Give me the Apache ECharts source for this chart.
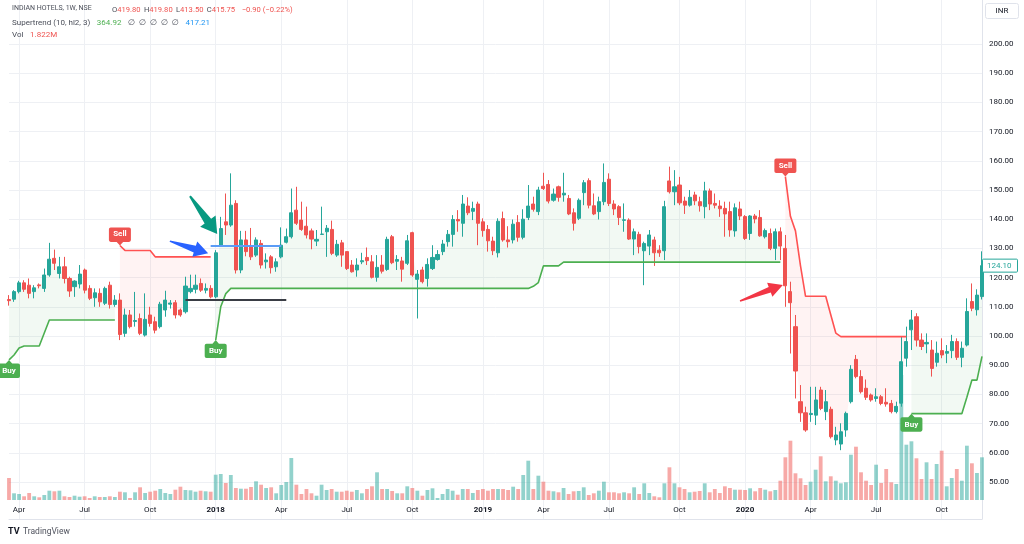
<!DOCTYPE html>
<html><head><meta charset="utf-8">
<script src="https://cdn.jsdelivr.net/npm/echarts@6/dist/echarts.min.js"></script>
<style>html,body{margin:0;padding:0;background:#fff}#c{width:1024px;height:544px}</style>
</head><body><div id="c"></div><script>
// ---------- data (weekly, starting week of 2017-03-20) ----------
const startDate = [2017, 2, 20];
const opens = [112.5,112.6,115.2,118.2,117.4,115.2,117.5,116.3,120.9,126.6,
121.4,123.7,119.7,116.9,117.8,122.6,116.3,113.1,114.6,111.2,
117.4,110.8,112.3,100.9,107.2,105.0,106.0,100.3,107.2,104.9,
103.2,108.9,110.9,111.4,108.9,108.3,115.2,116.0,118.0,115.7,
116.3,113.4,131.1,139.1,138.0,145.4,122.6,132.9,130.8,127.7,
131.7,125.4,127.1,123.7,127.1,132.1,134.0,143.1,139.7,137.6,
136.0,132.5,134.8,135.7,136.5,127.7,131.9,128.9,124.3,122.6,
125.4,126.9,125.4,120.1,124.3,122.8,134.0,125.6,125.7,124.9,
135.4,119.4,122.6,119.7,123.1,126.2,128.9,132.3,134.8,139.9,
138.6,144.5,142.7,145.2,139.1,136.5,132.5,128.5,140.2,132.9,
132.9,138.9,133.8,140.6,145.2,142.6,151.3,151.9,146.5,151.1,
148.3,147.1,142.2,140.3,149.1,153.2,144.6,142.6,146.0,153.7,
145.2,144.3,139.6,139.7,133.2,134.8,129.2,130.8,132.9,129.4,
129.2,153.1,149.4,151.7,146.2,144.8,148.3,146.0,144.3,149.7,
145.4,144.5,143.7,142.6,136.0,143.5,140.9,135.1,141.1,140.6,
134.0,135.1,130.0,135.7,130.0,115.2,103.2,77.5,73.7,73.1,
72.9,81.5,74.1,74.9,64.4,63.0,67.8,77.5,92.0,86.1,
82.1,79.8,78.6,79.2,77.3,76.9,74.1,77.0,92.4,102.1,
106.6,98.6,97.3,95.2,91.0,95.0,94.1,95.0,98.1,92.7,
96.9,111.8,109.0,113.5];
const closes = [112.1,115.2,118.2,116.0,114.6,116.5,117.2,120.9,126.3,124.9,
123.7,119.7,115.4,118.8,121.2,115.7,112.9,114.8,111.7,116.3,
110.8,112.3,100.5,107.2,103.2,105.3,100.9,105.7,104.3,102.0,
110.9,112.3,111.3,107.2,107.2,117.1,116.3,117.4,115.7,116.3,
113.4,128.5,136.8,138.0,144.8,122.6,132.9,128.9,127.1,132.9,
124.3,126.0,123.4,125.4,131.1,134.0,142.2,138.6,136.5,134.6,
133.2,133.1,134.9,136.9,128.3,131.4,127.7,123.1,122.0,124.3,
125.8,125.8,120.1,123.5,122.2,133.1,125.1,126.2,122.9,132.6,
120.9,121.2,118.6,124.5,126.9,127.9,131.5,134.8,139.9,139.4,
145.2,142.2,143.7,138.6,136.1,132.6,129.2,139.3,132.9,132.3,
138.3,133.8,140.0,144.5,143.4,150.0,150.5,146.2,148.6,147.5,
148.9,141.8,138.6,146.5,152.5,144.8,141.8,146.0,152.6,145.4,
143.5,140.6,139.8,133.2,135.7,130.6,131.7,134.6,128.5,128.5,
144.3,149.4,151.1,145.6,144.8,147.5,146.3,144.6,149.7,145.2,
144.8,143.6,141.8,136.3,143.9,141.1,133.4,141.1,140.1,134.3,
136.1,130.0,135.7,130.8,117.2,111.4,88.0,73.7,67.8,73.5,
78.1,75.2,77.5,65.5,66.1,67.2,73.5,88.6,86.1,80.9,
79.0,78.1,79.2,76.9,76.7,74.1,75.9,91.2,98.1,105.5,
98.6,96.4,97.8,88.9,94.1,93.5,94.7,98.1,92.7,95.8,
108.4,109.5,114.0,124.1];
const highs = [114.0,115.7,118.9,119.1,119.7,117.4,118.0,123.1,131.9,129.6,
127.1,127.1,120.3,119.1,124.3,123.1,117.4,116.3,116.3,116.9,
118.6,114.0,114.6,109.4,108.9,115.1,107.7,114.6,110.0,106.6,
111.7,115.5,112.3,112.3,109.4,120.3,121.0,121.0,119.7,118.0,
117.4,129.4,140.8,148.8,155.7,146.5,136.0,136.0,137.0,133.8,
132.9,128.3,127.7,126.6,137.2,136.8,150.5,151.1,146.0,144.3,
136.8,136.3,144.3,138.0,139.5,132.9,132.9,128.9,126.0,126.6,
128.5,130.3,127.7,127.7,127.7,134.0,134.6,127.7,127.1,134.6,
135.7,122.6,123.7,126.6,131.1,129.4,132.9,136.3,141.4,143.1,
148.3,147.5,146.0,146.0,140.3,138.0,134.0,140.3,142.6,137.6,
139.9,141.4,143.4,151.7,147.7,151.1,155.9,153.4,150.5,151.5,
155.9,148.3,143.7,147.1,153.4,154.0,148.8,147.7,159.1,155.7,
146.5,144.8,145.4,140.3,136.8,135.7,132.3,136.3,134.0,131.1,
146.3,158.0,156.8,154.5,147.7,150.0,149.4,147.7,152.8,150.5,
148.8,146.5,146.0,146.0,145.4,146.0,141.4,141.4,141.8,143.1,
136.8,136.8,136.8,137.2,134.6,118.6,107.2,83.2,75.8,82.6,
82.6,82.6,81.5,75.8,68.9,70.1,74.1,90.0,93.5,88.3,
85.1,80.3,82.1,79.8,82.1,78.1,77.5,99.8,103.2,108.9,
107.8,100.9,100.9,98.6,98.1,99.2,96.9,100.4,99.2,98.1,
112.9,118.0,116.0,129.0];
const lows = [110.4,111.7,114.6,115.1,112.9,112.9,116.3,115.1,120.3,122.6,
119.7,118.0,113.4,113.4,116.3,114.6,112.3,110.0,110.0,110.6,
109.4,110.0,98.6,99.7,102.6,103.2,100.3,99.8,103.2,100.9,
102.6,106.6,109.4,106.0,106.6,107.7,114.6,114.6,115.1,114.6,
112.9,112.9,130.6,134.6,137.4,121.4,121.5,127.3,126.0,127.1,
123.1,123.1,121.4,122.0,126.6,131.7,133.4,138.0,136.0,133.4,
129.7,130.8,134.6,127.1,127.7,127.1,123.7,122.6,121.7,120.3,
124.6,124.3,119.7,118.6,121.4,122.3,124.6,122.6,118.6,124.3,
120.3,106.0,118.0,116.9,122.6,125.8,127.7,130.6,130.6,135.7,
134.0,141.4,139.7,131.1,134.0,128.9,127.7,126.9,132.3,130.3,
131.7,132.3,133.1,139.7,142.6,141.4,150.0,145.4,146.0,146.0,
146.0,141.4,136.1,139.7,144.8,143.7,141.4,139.9,144.8,144.5,
141.4,138.0,135.7,132.9,127.7,128.3,117.4,127.7,124.0,127.1,
126.0,148.8,144.8,144.8,141.8,144.3,144.8,142.6,140.3,143.1,
143.7,140.8,134.0,134.0,134.0,139.7,132.9,132.9,138.6,134.0,
133.4,129.4,126.0,126.0,110.0,94.0,78.6,70.6,67.2,70.6,
69.5,74.6,71.2,64.9,62.6,60.9,65.5,76.9,85.5,80.3,
78.1,77.5,77.5,76.3,75.8,73.5,73.5,75.8,89.5,95.2,
96.4,95.2,94.1,86.1,89.5,92.4,90.7,92.4,91.8,89.3,
96.4,108.5,107.0,112.5];
const volumes = [22,6.7,6,3.7,7,3.7,2.7,5,9.3,8.7,
9.3,3.7,3,4.3,3.3,3.7,2,3.7,3,3,
3.7,3,8.3,7.7,2,7.7,12.7,7,8.3,9.3,
11,7,6,10.3,13.3,10,9.7,8.3,9.3,8.7,
8.3,25.3,26,17,25,12,11.3,11.3,13,18.7,
15.3,12,12.7,6.7,15,18,42,15.3,6,11,
6.7,4.3,15.3,10,11,8.3,8.3,9.3,8.3,10,
6.7,11,13.7,27.7,11,11,9,6.7,6.7,13.7,
12,9.3,4.3,10,11.7,2,6,11,9.3,5.3,
11,11,7,10,11,9.3,11,11,11,10,
13.3,11,25,39.3,11,24.3,18.3,9.3,8.7,7.7,
12,6,8.7,9,12.7,5,6.7,9.3,18.3,7.7,
7.7,6.7,7.7,6.7,12.7,6,16.7,7,3.7,2.7,
16.7,32.7,16.7,12.7,11,7.7,8.3,9,16.7,7.7,
11,7,13.7,12,10.3,10.3,10,11.7,8.7,12,
10.3,8.7,10,19.3,42.7,59.3,26.7,21.7,15,18.3,
30.3,43.7,18.7,23.7,19.3,16.7,17.7,45.3,53.3,27.7,
19.3,15,35.3,17,31,17.7,16,125,55.3,58.7,
41.7,21,37.7,21,36,49.3,13.7,22,31,19.3,
54.3,36.7,27,42.7];
const supertrend = [91.8,93.5,95.9,96.6,96.6,96.6,96.6,101.0,105.5,105.5,
105.5,105.5,105.5,105.5,105.5,105.5,105.5,105.5,105.5,105.5,
105.5,105.5,131.0,129.3,129.3,129.3,129.3,129.3,129.3,127.1,
127.1,127.1,127.1,127.1,127.1,127.1,127.1,127.1,127.1,127.1,
127.1,98.6,110.0,114.5,116.3,116.3,116.3,116.3,116.3,116.3,
116.3,116.3,116.3,116.3,116.3,116.3,116.3,116.3,116.3,116.3,
116.3,116.3,116.3,116.3,116.3,116.3,116.3,116.3,116.3,116.3,
116.3,116.3,116.3,116.3,116.3,116.3,116.3,116.3,116.3,116.3,
116.3,116.3,116.3,116.3,116.3,116.3,116.3,116.3,116.3,116.3,
116.3,116.3,116.3,116.3,116.3,116.3,116.3,116.3,116.3,116.3,
116.3,116.3,116.3,116.3,117.0,118.3,124.0,124.0,124.0,124.0,
125.3,125.3,125.3,125.3,125.3,125.3,125.3,125.3,125.3,125.3,
125.3,125.3,125.3,125.3,125.3,125.3,125.3,125.3,125.3,125.3,
125.3,125.3,125.3,125.3,125.3,125.3,125.3,125.3,125.3,125.3,
125.3,125.3,125.3,125.3,125.3,125.3,125.3,125.3,125.3,125.3,
125.3,125.3,125.3,125.3,154.6,141.0,136.0,124.0,113.6,113.6,
113.6,113.6,113.6,107.3,101.0,99.8,99.8,99.8,99.8,99.8,
99.8,99.8,99.8,99.8,99.8,99.8,99.8,99.8,99.8,73.4,
73.4,73.4,73.4,73.4,73.4,73.4,73.4,73.4,73.4,73.4,
79.0,84.9,84.9,93.0];
const buySignals = [0, 41, 179];
const sellSignals = [22, 154];
const monthNames = ['Jan','Feb','Mar','Apr','May','Jun','Jul','Aug','Sep','Oct','Nov','Dec'];
const blueLevel = {from: 40, to: 54, value: 131.0};
const blackLevel = {from: 35, to: 55, value: 112.4};
const lastPrice = 124.10;

// ---------- derived ----------
const N = opens.length;
const dates = [];
for (let i = 0; i < N; i++) {
  const d = new Date(Date.UTC(startDate[0], startDate[1], startDate[2]) + i * 7 * 86400000);
  dates.push(d.toISOString().slice(0, 10));
}
const isUp = [];
for (let i = 0; i < N; i++) {
  let lastB = -1, lastS = -1;
  buySignals.forEach(b => { if (b <= i) lastB = Math.max(lastB, b); });
  sellSignals.forEach(s => { if (s <= i) lastS = Math.max(lastS, s); });
  isUp.push(lastB >= lastS);
}
const mid = opens.map((o, i) => (o + closes[i]) / 2);
const stUp = supertrend.map((v, i) => isUp[i] ? v : '-');
const stDn = supertrend.map((v, i) => !isUp[i] ? v : '-');
const upBase = supertrend.map((v, i) => isUp[i] ? v : '-');
const upFill = supertrend.map((v, i) => isUp[i] ? Math.max(0, mid[i] - v) : '-');
const dnBase = supertrend.map((v, i) => !isUp[i] ? mid[i] : '-');
const dnFill = supertrend.map((v, i) => !isUp[i] ? Math.max(0, v - mid[i]) : '-');
const candles = opens.map((o, i) => [o, closes[i], lows[i], highs[i]]);

function isQuarterStart(i) {
  if (i <= 0) return false;
  const m = +dates[i].slice(5, 7), pm = +dates[i - 1].slice(5, 7);
  return m !== pm && (m - 1) % 3 === 0;
}

const FONT = 'Roboto, "DejaVu Sans", sans-serif';
const TXT = '#131722';
const GRIDC = '#eef0f4';
const UP = '#26a69a', DN = '#ef5350';

const chart = echarts.init(document.getElementById('c'), null, {renderer: 'canvas'});

const buyPath = 'path://M12,0 L15.5,4 L22,4 Q24,4 24,6 L24,18 Q24,20 22,20 L2,20 Q0,20 0,18 L0,6 Q0,4 2,4 L8.5,4 Z';
const sellPath = 'path://M2,0 L22,0 Q24,0 24,2 L24,14 Q24,16 22,16 L15.5,16 L12,20 L8.5,16 L2,16 Q0,16 0,14 L0,2 Q0,0 2,0 Z';

const option = {
  animation: false,
  backgroundColor: '#ffffff',
  textStyle: {fontFamily: FONT},
  grid: [
    {left: 9, right: 42, top: 44, height: 438},
    {left: 9, right: 42, top: 375, height: 125},
    {left: 9, right: 42, top: 0, height: 519}
  ],
  xAxis: [
    {type: 'category', gridIndex: 0, data: dates, boundaryGap: false,
     axisLine: {show: false}, axisTick: {show: false}, axisLabel: {show: false}, splitLine: {show: false}},
    {type: 'category', gridIndex: 1, data: dates, boundaryGap: false,
     axisLine: {show: false}, axisTick: {show: false}, splitLine: {show: false},
     axisLabel: {
       show: true, margin: 6, fontSize: 8, color: TXT, fontFamily: FONT,
       interval: (idx) => isQuarterStart(idx),
       formatter: (val) => {
         const m = +val.slice(5, 7);
         return m === 1 ? '{b|' + val.slice(0, 4) + '}' : monthNames[m - 1];
       },
       rich: {b: {fontWeight: 'bold', fontSize: 8, color: TXT, fontFamily: FONT}}
     }},
    {type: 'category', gridIndex: 2, data: dates, boundaryGap: false,
     axisLine: {show: true, lineStyle: {color: '#e0e3eb'}}, axisTick: {show: false}, axisLabel: {show: false},
     splitLine: {show: true, interval: (idx) => isQuarterStart(idx), lineStyle: {color: GRIDC, width: 1}}}
  ],
  yAxis: [
    {type: 'value', gridIndex: 0, position: 'right', min: 50, max: 200, interval: 10,
     axisLine: {show: false}, axisTick: {show: false},
     axisLabel: {margin: 7, fontSize: 8, color: TXT, fontFamily: FONT, formatter: v => v.toFixed(2)},
     splitLine: {show: true, lineStyle: {color: GRIDC, width: 1}}},
    {type: 'value', gridIndex: 1, min: 0, max: 125, show: false, splitLine: {show: false}},
    {type: 'value', gridIndex: 2, position: 'right', min: 0, max: 1,
     axisLine: {show: true, lineStyle: {color: '#e0e3eb'}}, axisTick: {show: false},
     axisLabel: {show: false}, splitLine: {show: false}}
  ],
  series: [
    {name: 'Vol', type: 'bar', xAxisIndex: 1, yAxisIndex: 1, barWidth: 3.8, clip: false, z: 1,
     data: volumes.map((v, i) => ({value: v, itemStyle: {color: closes[i] >= opens[i] ? 'rgba(38,166,154,0.5)' : 'rgba(239,83,80,0.5)'}}))},
    {name: 'upBase', type: 'line', stack: 'upF', data: upBase, symbol: 'none', silent: true,
     lineStyle: {opacity: 0}, z: 2},
    {name: 'upFill', type: 'line', stack: 'upF', data: upFill, symbol: 'none', silent: true,
     lineStyle: {opacity: 0}, areaStyle: {color: 'rgba(76,175,80,0.10)'}, z: 2},
    {name: 'dnBase', type: 'line', stack: 'dnF', data: dnBase, symbol: 'none', silent: true,
     lineStyle: {opacity: 0}, z: 2},
    {name: 'dnFill', type: 'line', stack: 'dnF', data: dnFill, symbol: 'none', silent: true,
     lineStyle: {opacity: 0}, areaStyle: {color: 'rgba(255,82,82,0.10)'}, z: 2},
    {name: 'INDIAN HOTELS', type: 'candlestick', data: candles, barWidth: 3.6, clip: false, z: 3,
     itemStyle: {color: UP, color0: DN, borderColor: UP, borderColor0: DN, borderWidth: 1},
     markLine: {symbol: 'none', silent: true, label: {show: false}, animation: false,
       data: [
         [{coord: [blueLevel.from, blueLevel.value], lineStyle: {color: '#5b9cf6', width: 2, type: 'solid'}},
          {coord: [blueLevel.to, blueLevel.value]}],
         [{coord: [blackLevel.from, blackLevel.value], lineStyle: {color: '#3a3d45', width: 2, type: 'solid'}},
          {coord: [blackLevel.to, blackLevel.value]}]
       ]}},
    {name: 'ST up', type: 'line', data: stUp, symbol: 'none', z: 4,
     lineStyle: {color: '#4caf50', width: 1.6},
     markPoint: {symbol: buyPath, symbolSize: [22, 18], symbolOffset: [0, 9],
       itemStyle: {color: '#4caf50'},
       label: {show: true, position: 'inside', offset: [0, 2], color: '#fff', fontSize: 8, fontWeight: 'bold', fontFamily: FONT, formatter: 'Buy'},
       data: buySignals.map(i => ({coord: [i, supertrend[i]]}))}},
    {name: 'ST down', type: 'line', data: stDn, symbol: 'none', z: 4,
     lineStyle: {color: '#ff5252', width: 1.6},
     markPoint: {symbol: sellPath, symbolSize: [22, 18], symbolOffset: [0, -9],
       itemStyle: {color: '#ef5350'},
       label: {show: true, position: 'inside', offset: [0, -2], color: '#fff', fontSize: 8, fontWeight: 'bold', fontFamily: FONT, formatter: 'Sell'},
       data: sellSignals.map(i => ({coord: [i, supertrend[i]]}))}}
  ]
};
chart.setOption(option);

// ---------- annotations (positioned through the chart's own scales) ----------
function toPx(idx, val) {
  const i0 = Math.floor(idx), f = idx - i0;
  const a = chart.convertToPixel({xAxisIndex: 0, yAxisIndex: 0}, [i0, val]);
  const b = chart.convertToPixel({xAxisIndex: 0, yAxisIndex: 0}, [i0 + 1, val]);
  return [a[0] + (b[0] - a[0]) * f, a[1]];
}
function arrow(tail, tip, h, H, w0, w1, color) {
  const p0 = toPx(tail[0], tail[1]), p1 = toPx(tip[0], tip[1]);
  const dx = p1[0] - p0[0], dy = p1[1] - p0[1], L = Math.hypot(dx, dy);
  const ux = dx / L, uy = dy / L, nx = -uy, ny = ux;
  const bx = p1[0] - ux * h, by = p1[1] - uy * h;
  const pts = [
    [p0[0] + nx * w0 / 2, p0[1] + ny * w0 / 2],
    [bx + nx * w1 / 2, by + ny * w1 / 2],
    [bx + nx * H / 2, by + ny * H / 2],
    [p1[0], p1[1]],
    [bx - nx * H / 2, by - ny * H / 2],
    [bx - nx * w1 / 2, by - ny * w1 / 2],
    [p0[0] - nx * w0 / 2, p0[1] - ny * w0 / 2]
  ];
  return {type: 'polygon', shape: {points: pts}, style: {fill: color}, z: 50};
}
const arrows = [
  {tail: [31.9, 132.5], tip: [39.5, 128.3], h: 14, H: 16, w0: 1.5, w1: 7, color: '#2962ff'},
  {tail: [35.9, 147.9], tip: [41.3, 134.9], h: 16, H: 19, w0: 2, w1: 8, color: '#089981'},
  {tail: [145.0, 112.0], tip: [153.5, 117.5], h: 14, H: 15, w0: 1.5, w1: 6, color: '#f23645'}
];
const lastPx = chart.convertToPixel({yAxisIndex: 0}, lastPrice);

const graphics = arrows.map(a => arrow(a.tail, a.tip, a.h, a.H, a.w0, a.w1, a.color));
graphics.push(
  {type: 'text', left: 12, top: 4.5, z: 60, style: {text: 'INDIAN HOTELS, 1W, NSE', fill: '#4a4e59', font: '7px ' + FONT}},
  {type: 'text', left: 112, top: 4, z: 60, style: {
    text: '{n|O}{r|419.80} {n|H}{r|419.80} {n|L}{r|413.50} {n|C}{r|415.75}  {r|\u22120.90 (\u22120.22%)}',
    rich: {n: {fill: '#4a4e59', font: '7.6px ' + FONT}, r: {fill: '#ef5350', font: '7.6px ' + FONT}}}},
  {type: 'text', left: 12, top: 16.5, z: 60, style: {
    text: '{n|Supertrend (10, hl2, 3)}  {g|364.92}  {n|\u2205  \u2205  \u2205  \u2205  \u2205}  {b|417.21}',
    rich: {n: {fill: '#4a4e59', font: '8px ' + FONT}, g: {fill: '#4caf50', font: '8px ' + FONT}, b: {fill: '#2196f3', font: '8px ' + FONT}}}},
  {type: 'text', left: 12, top: 29, z: 60, style: {
    text: '{n|Vol}  {r|1.822M}',
    rich: {n: {fill: '#4a4e59', font: '8px ' + FONT}, r: {fill: '#ef5350', font: '8px ' + FONT}}}},
  {type: 'rect', shape: {x: 985.5, y: 3.5, width: 33, height: 15, r: 2}, style: {fill: '#fff', stroke: '#e0e3eb', lineWidth: 1}, z: 60},
  {type: 'text', x: 1002, y: 11, z: 61, style: {text: 'INR', fill: TXT, font: '8px ' + FONT, align: 'center', verticalAlign: 'middle'}},
  {type: 'rect', shape: {x: 982.5, y: lastPx - 6.5, width: 35, height: 13, r: 1}, style: {fill: '#fff', stroke: UP, lineWidth: 1}, z: 60},
  {type: 'text', x: 987, y: lastPx, z: 61, style: {text: lastPrice.toFixed(2), fill: UP, font: '8px ' + FONT, verticalAlign: 'middle'}},
  {type: 'text', x: 8, y: 532, z: 60, style: {text: 'TV', fill: '#131722', font: 'bold 9px ' + FONT, verticalAlign: 'middle'}},
  {type: 'text', x: 23, y: 532, z: 60, style: {text: 'TradingView', fill: '#50535e', font: '8.5px ' + FONT, verticalAlign: 'middle'}}
);
chart.setOption({graphic: graphics});
</script></body></html>
